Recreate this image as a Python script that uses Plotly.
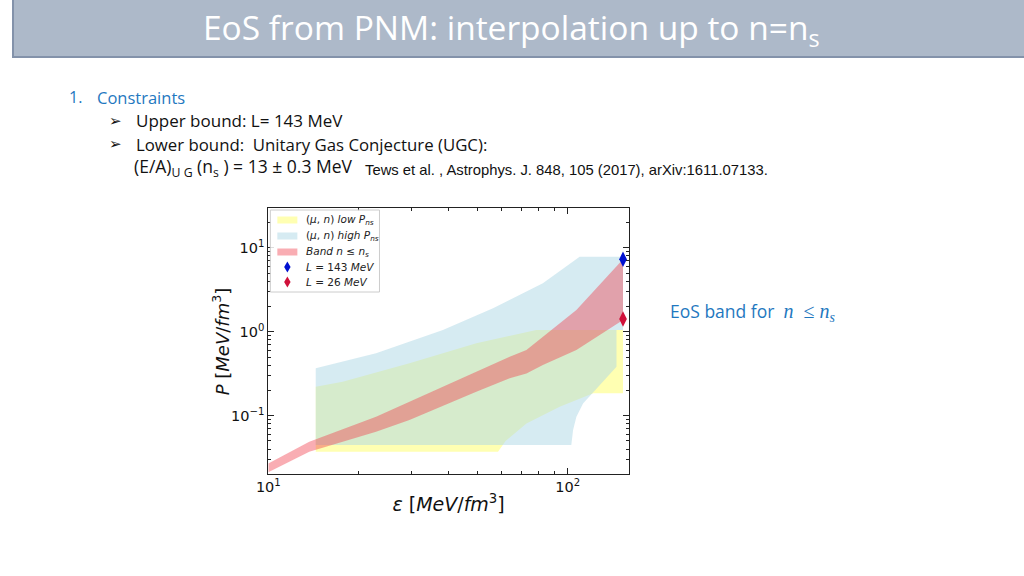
import plotly.graph_objects as go

W, H = 1024, 576

# ---------------- data ----------------
# (mu, n) low P_ns  -- yellow region boundary
low_x = [14.4, 14.4, 17.7, 29.6, 49.5, 78.5, 153, 153, 121.7, 94, 72.8, 62, 58.5, 14.4]
low_y = [0.0373, 0.221, 0.254, 0.421, 0.727, 1.05, 1.05, 0.185, 0.185, 0.128, 0.081, 0.05, 0.0373, 0.0373]

# (mu, n) high P_ns -- light-blue region boundary
high_x = [14.4, 14.4, 22.9, 38.3, 56.3, 82.6, 109.6, 153, 153, 145.5, 145.5, 121.7, 112.5, 106.9, 104.2, 102.8, 14.4]
high_y = [0.0448, 0.367, 0.553, 1.05, 1.90, 3.77, 7.8, 7.8, 1.05, 1.05, 0.383, 0.193, 0.14, 0.097, 0.0676, 0.0448, 0.0448]

# Band n <= n_s -- upper and lower edges
band_up_x = [10.0, 13.7, 22.9, 29.6, 33.7, 49.5, 64.0, 72.8, 82.6, 106.9, 153]
band_up_y = [0.0270, 0.049, 0.0973, 0.147, 0.178, 0.334, 0.504, 0.605, 0.87, 1.81, 7.3]
band_lo_x = [10.0, 13.7, 22.9, 29.6, 49.5, 64.0, 72.8, 82.6, 106.9, 153]
band_lo_y = [0.0212, 0.0373, 0.0645, 0.0889, 0.193, 0.279, 0.319, 0.402, 0.605, 1.38]

# end points
L143 = (153, 7.3)
L26 = (153, 1.42)

ytick_vals = [0.1, 1, 10]
ytick_text = ["10<sup>\u22121</sup>", "10<sup>0</sup>", "10<sup>1</sup>"]
xtick_vals = [10, 100]
xtick_text = ["10<sup>1</sup>", "10<sup>2</sup>"]

legend_labels = [
    "(<i>\u03bc</i>, <i>n</i>) <i>low P<sub>ns</sub></i>",
    "(<i>\u03bc</i>, <i>n</i>) <i>high P<sub>ns</sub></i>",
    "<i>Band n \u2264 n<sub>s</sub></i>",
    "<i>L</i> = 143 <i>MeV</i>",
    "<i>L</i> = 26 <i>MeV</i>",
]

# ---------------- helpers: target pixel -> paper coords ----------------
# the viewer shows the page with a small left gutter and slight horizontal squeeze;
# compensate so that the picture lines up with the target pixel positions
OX, SX = 13.0, 0.987


def PX(px):
    return (px - OX) / SX / W


def PY(py):
    return 1 - py / H


# ---------------- figure ----------------
fig = go.Figure()
MATH = "DejaVu Sans"
C_LOW = "rgba(255,255,0,0.30)"
C_HIGH = "rgba(173,216,230,0.50)"
C_BAND = "rgba(240,60,75,0.42)"
C_BLUE = "#0010d0"
C_RED = "#d0103a"

fig.add_trace(go.Scatter(
    x=low_x, y=low_y, fill="toself", mode="lines", line=dict(width=0),
    fillcolor=C_LOW, name=legend_labels[0], showlegend=False, hoverinfo="skip"))
fig.add_trace(go.Scatter(
    x=high_x, y=high_y, fill="toself", mode="lines", line=dict(width=0),
    fillcolor=C_HIGH, name=legend_labels[1], showlegend=False, hoverinfo="skip"))
fig.add_trace(go.Scatter(
    x=band_up_x + band_lo_x[::-1], y=band_up_y + band_lo_y[::-1],
    fill="toself", mode="lines", line=dict(width=0),
    fillcolor=C_BAND, name=legend_labels[2], showlegend=False, hoverinfo="skip"))
fig.add_trace(go.Scatter(
    x=[L143[0]], y=[L143[1]], mode="markers", cliponaxis=False,
    marker=dict(symbol="diamond-tall", size=11, color=C_BLUE),
    name=legend_labels[3], showlegend=False))
fig.add_trace(go.Scatter(
    x=[L26[0]], y=[L26[1]], mode="markers", cliponaxis=False,
    marker=dict(symbol="diamond-tall", size=11, color=C_RED),
    name=legend_labels[4], showlegend=False))

# plot frame in target pixels
L, R, T, B = 269, 629, 208, 474
dom_x = [PX(L), PX(R)]
dom_y = [PY(B), PY(T)]

minor_x = [v * 10 for v in range(2, 10)] + [200]
minor_y = [v * s for s in (0.01, 0.1, 1, 10) for v in range(2, 10)]

axis_common = dict(
    showline=True, linecolor="#222", linewidth=1, mirror="allticks",
    ticks="inside", ticklen=6, tickwidth=1, tickcolor="#222",
    showgrid=False, zeroline=False,
    tickfont=dict(family=MATH, size=14.5, color="#111"),
)

fig.update_layout(
    width=W, height=H, margin=dict(l=0, r=0, t=0, b=0),
    paper_bgcolor="white", plot_bgcolor="white",
    showlegend=False,
    xaxis=dict(
        type="log", domain=dom_x, range=[1.0, 2.204],
        tickmode="array", tickvals=xtick_vals, ticktext=xtick_text,
        minor=dict(tickmode="array", tickvals=minor_x, ticks="inside",
                   ticklen=3, tickcolor="#222", showgrid=False),
        title=dict(text="<i>\u03b5</i> [<i>MeV</i>/<i>fm</i><sup>3</sup>]",
                   font=dict(family=MATH, size=19, color="#111"), standoff=3),
        **axis_common,
    ),
    yaxis=dict(
        type="log", domain=dom_y, range=[-1.694, 1.473],
        tickmode="array", tickvals=ytick_vals, ticktext=ytick_text,
        minor=dict(tickmode="array", tickvals=minor_y, ticks="inside",
                   ticklen=3, tickcolor="#222", showgrid=False),
        **axis_common,
    ),
)

# y-axis title placed explicitly
fig.add_annotation(text="<i>P</i> [<i>MeV</i>/<i>fm</i><sup>3</sup>]", textangle=-90,
                   xref="paper", yref="paper", x=PX(222), y=PY(341),
                   xanchor="center", yanchor="middle", showarrow=False,
                   font=dict(family=MATH, size=18, color="#111"))

# ---------------- legend (drawn box, matplotlib style) ----------------
lx0, ly0, lx1, ly1 = 271, 210, 380, 292
fig.add_shape(type="rect", xref="paper", yref="paper",
              x0=PX(lx0), x1=PX(lx1), y0=PY(ly1), y1=PY(ly0),
              fillcolor="rgba(255,255,255,0.85)", line=dict(color="#cccccc", width=1),
              layer="above")
row_y = [220, 236, 252, 267, 282]
swatch_colors = [C_LOW, C_HIGH, C_BAND]
for i, lab in enumerate(legend_labels):
    cy = row_y[i]
    if i < 3:
        fig.add_shape(type="rect", xref="paper", yref="paper",
                      x0=PX(278), x1=PX(298), y0=PY(cy + 3.5), y1=PY(cy - 3.5),
                      fillcolor=swatch_colors[i], line=dict(width=0), layer="above")
    else:
        col = C_BLUE if i == 3 else C_RED
        cx = 288
        path = "M {} {} L {} {} L {} {} L {} {} Z".format(
            PX(cx), PY(cy - 5.5), PX(cx + 3.2), PY(cy),
            PX(cx), PY(cy + 5.5), PX(cx - 3.2), PY(cy))
        fig.add_shape(type="path", xref="paper", yref="paper", path=path,
                      fillcolor=col, line=dict(width=0), layer="above")
    fig.add_annotation(text=lab, xref="paper", yref="paper",
                       x=PX(305), y=PY(cy), xanchor="left", yanchor="middle",
                       showarrow=False, font=dict(family=MATH, size=10.5, color="#222"))

# ---------------- slide decoration ----------------
fig.add_shape(type="rect", xref="paper", yref="paper", x0=0, x1=1,
              y0=PY(57), y1=1, fillcolor="#adb9c9", line=dict(width=0), layer="below")
fig.add_shape(type="line", xref="paper", yref="paper", x0=0, x1=1,
              y0=PY(57), y1=PY(57), line=dict(color="#8392aa", width=2))
fig.add_shape(type="line", xref="paper", yref="paper", x0=0.001, x1=0.001,
              y0=PY(57), y1=1, line=dict(color="#8392aa", width=2))

TXT = "Open Sans"


def ann(text, px, py, size, color="#111", family=TXT, anchor="left"):
    fig.add_annotation(text=text, xref="paper", yref="paper",
                       x=PX(px), y=PY(py), xanchor=anchor, yanchor="middle",
                       showarrow=False, font=dict(family=family, size=size, color=color))


SERIF = "<span style=\"font-family:Liberation Serif;font-size:20px\">"
ann("EoS from PNM: interpolation up to n=n<sub>s</sub>", 512, 29, 33.5, "white", anchor="center")
ann("1.", 68, 97, 16, "#1f78c0")
ann("Constraints", 96, 97, 16.5, "#1f78c0")
ann("\u27a2", 108, 121, 15, "#111", family="DejaVu Sans")
ann("Upper bound: L= 143 MeV", 135, 121, 17)
ann("\u27a2", 108, 144, 15, "#111", family="DejaVu Sans")
ann("Lower bound:  Unitary Gas Conjecture (UGC):", 135, 144, 16.8)
ann("(E/A)<sub>U G</sub> (n<sub>s</sub> ) = 13 \u00b1 0.3 MeV", 133, 167, 17.5)
ann("Tews et al. , Astrophys. J. 848, 105 (2017), arXiv:1611.07133.", 364, 170, 14.8,
    family="Liberation Sans")
ann("EoS band for  " + SERIF + "<i>n</i>  \u2264 <i>n<sub>s</sub></i></span>",
    668, 312, 17.5, "#1f78c0")

post = ("document.body.style.margin='0';document.body.style.overflow='hidden';"
        "var d=document.getElementById('{plot_id}');d.style.position='absolute';"
        "d.style.left='0px';d.style.top='0px';")
fig.write_html("out.html", post_script=post, config={"displayModeBar": False})
